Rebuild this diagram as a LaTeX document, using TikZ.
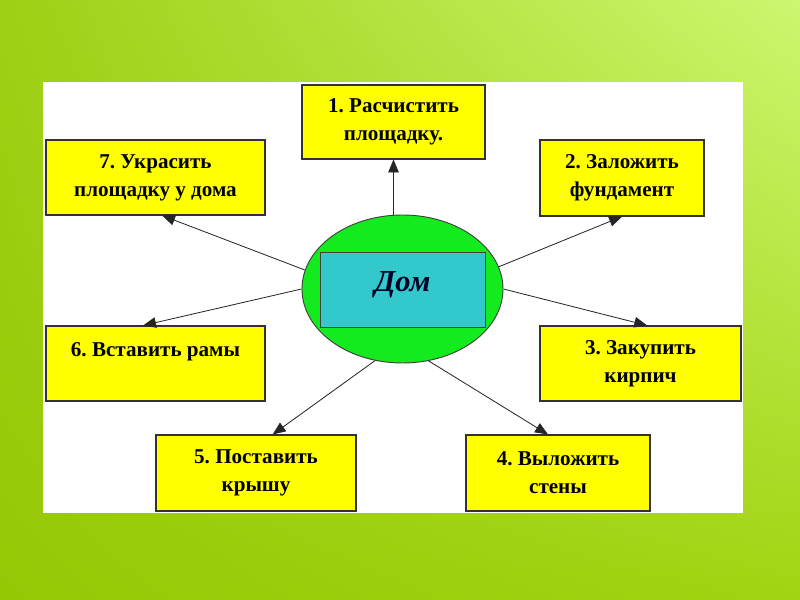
\documentclass[tikz,border=0pt]{standalone}
\usepackage{fontspec}
\setmainfont{Liberation Serif}
\usetikzlibrary{shapes.geometric,arrows.meta,positioning,calc,shadings}
\usepackage{xcolor}
\frenchspacing
\definecolor{boxyellow}{RGB}{255,255,0}
\definecolor{domgreen}{RGB}{20,235,30}
\definecolor{domteal}{RGB}{51,200,204}
\definecolor{bgUL}{RGB}{158,208,20}
\definecolor{bgUR}{RGB}{206,246,112}
\definecolor{bgLL}{RGB}{150,200,6}
\definecolor{bgLR}{RGB}{162,212,18}

\begin{document}
\begin{tikzpicture}[x=0.03cm, y=-0.03cm,
    box/.style={rectangle, draw=black!80, line width=0.9pt, fill=boxyellow,
                align=center, inner sep=0pt,
                font=\fontsize{18}{24}\selectfont\bfseries},
    arrow/.style={-{Triangle[length=11pt,width=9pt]}, black!85, line width=0.7pt}
  ]
  
  % background
  \shade[upper left=bgUL, upper right=bgUR, lower left=bgLL, lower right=bgLR]
    (0,0) rectangle (800,600);
  \fill[white] (43,82) rectangle (743,513);
  
  \node[ellipse, draw=black!75, line width=0.8pt, fill=domgreen,
        minimum width=6.03cm, minimum height=4.44cm] (dom) at (402.5,289) {};
  \node[rectangle, draw=black!75, line width=0.8pt, fill=domteal,
        minimum width=4.95cm, minimum height=2.25cm,
        font=\fontsize{26}{30}\selectfont\bfseries\itshape,
        text=black!85!blue] (house) at (402.5,289.5) {\raisebox{0.5cm}{Дом}};
  
  \node[box, minimum width=5.49cm, minimum height=2.22cm] (b1) at (393.5,122) {1. Расчистить\\площадку.};
  \node[box, minimum width=4.92cm, minimum height=2.28cm] (b2) at (622,178) {2. Заложить\\фундамент};
  \node[box, minimum width=6.03cm, minimum height=2.25cm] (b3) at (640.5,363.5) {3. Закупить\\кирпич};
  \node[box, minimum width=5.52cm, minimum height=2.28cm] (b4) at (558,473) {4. Выложить\\стены};
  \node[box, minimum width=6.00cm, minimum height=2.28cm] (b5) at (256,473) {5. Поставить\\крышу};
  \node[box, minimum width=6.57cm, minimum height=2.25cm] (b6) at (155.5,363.5) {6. Вставить рамы\\\mbox{}};
  \node[box, minimum width=6.57cm, minimum height=2.25cm] (b7) at (155.5,177.5) {7. Украсить\\площадку у дома};
  
  \draw[arrow] (b1.south |- dom.north) -- (b1.south);
  \draw[arrow] (dom.13) -- (b2.south);
  \draw[arrow] (dom.0) -- ([xshift=0.2cm]b3.north);
  \draw[arrow] (dom.290) -- ([xshift=-0.3cm]b4.north);
  \draw[arrow] (dom.249) -- ([xshift=0.5cm]b5.north);
  \draw[arrow] (dom.180) -- ([xshift=-0.37cm]b6.north);
  \draw[arrow] (dom.169) -- ([xshift=0.2cm]b7.south);
  
\end{tikzpicture}
\end{document}
